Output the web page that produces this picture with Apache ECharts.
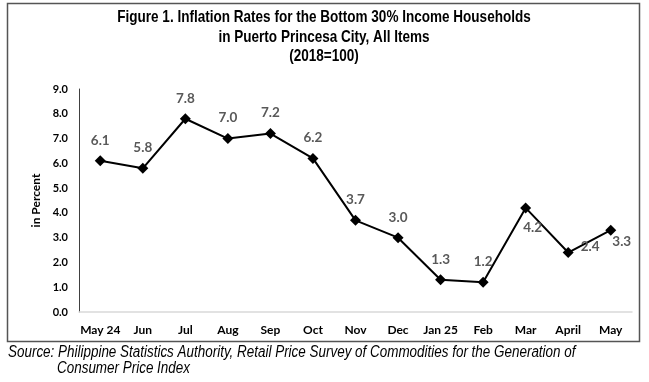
<!DOCTYPE html>
<html><head><meta charset="utf-8">
<script src="https://cdn.jsdelivr.net/npm/echarts@6/dist/echarts.min.js"></script>
<style>html,body{margin:0;padding:0;background:#fff}#c{width:649px;height:382px}</style>
</head><body><div id="c"></div>
<script>
const categories = ['May 24','Jun','Jul','Aug','Sep','Oct','Nov','Dec','Jan 25','Feb','Mar','April','May'];
const values = [6.1,5.8,7.8,7.0,7.2,6.2,3.7,3.0,1.3,1.2,4.2,2.4,3.3];
const titleLines = ['Figure 1. Inflation Rates for the Bottom 30% Income Households','in Puerto Princesa City, All Items','(2018=100)'];
const sourceLines = ['Source: Philippine Statistics Authority, Retail Price Survey of Commodities for the Generation of','Consumer Price Index'];

const labelOffsets = {10:[7,20],11:[22,-6],12:[11,11]};
const data = values.map((v,i)=>{
  const o = labelOffsets[i];
  if(!o) return v;
  return {value:v,label:{position:'inside',offset:[o[0],o[1]]}};
});

const sans = '"Liberation Sans", Arial, sans-serif';
const titleY = [17, 37, 56];
const graphics = [
  {type:'rect',shape:{x:7.5,y:3.5,width:632,height:338},style:{fill:'none',stroke:'#555',lineWidth:1.5},z:-1}
];
titleLines.forEach((t,i)=>graphics.push({type:'text',x:324,y:titleY[i],scaleX:0.82,
  style:{text:t,font:'bold 16.5px '+sans,fill:'#000',textAlign:'center',textVerticalAlign:'middle'}}));
graphics.push({type:'text',x:8,y:353,scaleX:0.84,style:{text:sourceLines[0],font:'italic 16px '+sans,fill:'#000',textAlign:'left',textVerticalAlign:'middle'}});
graphics.push({type:'text',x:57,y:369,scaleX:0.84,style:{text:sourceLines[1],font:'italic 16px '+sans,fill:'#000',textAlign:'left',textVerticalAlign:'middle'}});

const chart = echarts.init(document.getElementById('c'),null,{renderer:'canvas'});
chart.setOption({
  animation:false,
  graphic:graphics,
  grid:{left:79,right:17,top:89,bottom:70},
  xAxis:{type:'category',data:categories,boundaryGap:true,
    axisLine:{lineStyle:{color:'#d9d9d9',width:1.5}},axisTick:{show:false},
    axisLabel:{color:'#000',fontFamily:'Lato',fontWeight:'bold',fontSize:12,margin:12,interval:0}},
  yAxis:{type:'value',min:0,max:9,interval:1,
    name:'in Percent',nameLocation:'middle',nameGap:33,nameRotate:90,
    nameTextStyle:{color:'#000',fontFamily:'Lato',fontWeight:'bold',fontSize:12},
    axisLine:{show:true,lineStyle:{color:'#404040',width:1}},axisTick:{show:false},splitLine:{show:false},
    axisLabel:{color:'#000',fontFamily:'Lato',fontWeight:'bold',fontSize:11,margin:11,formatter:v=>v.toFixed(1)}},
  series:[{type:'line',data:data,symbol:'diamond',symbolSize:11,
    lineStyle:{color:'#000',width:2},itemStyle:{color:'#000'},
    label:{show:true,position:'top',distance:8,color:'#595959',fontFamily:'Lato',fontWeight:'bold',fontSize:13.5,formatter:p=>Number(p.value).toFixed(1)}}]
});
</script></body></html>
